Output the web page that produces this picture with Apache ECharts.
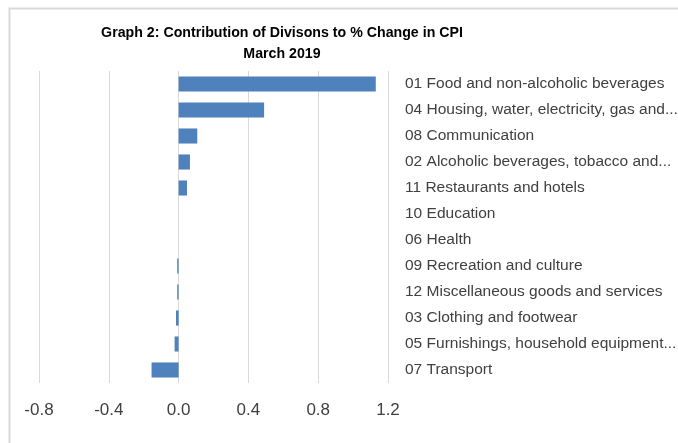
<!DOCTYPE html>
<html>
<head>
<meta charset="utf-8">
<script src="https://cdn.jsdelivr.net/npm/echarts@6/dist/echarts.min.js"></script>
<style>
  html, body { margin: 0; padding: 0; background: #fff; }
  #chart { width: 678px; height: 443px; }
</style>
</head>
<body>
<div id="chart"></div>
<script>
// divisions, top to bottom as shown
const divisions = [
  '01 Food and non-alcoholic beverages',
  '04 Housing, water, electricity, gas and...',
  '08 Communication',
  '02 Alcoholic beverages, tobacco and...',
  '11 Restaurants and hotels',
  '10 Education',
  '06 Health',
  '09 Recreation and culture',
  '12 Miscellaneous goods and services',
  '03 Clothing and footwear',
  '05 Furnishings, household equipment...',
  '07 Transport'
];
const contribution = [1.13, 0.49, 0.107, 0.065, 0.048, 0, 0, -0.008, -0.008, -0.015, -0.023, -0.155];

const titleLines = ['Graph 2: Contribution of Divisons to % Change in CPI', 'March 2019'];

let chart = echarts.init(document.getElementById('chart'), null, {renderer: 'canvas'});
let option;

option = {
  animation: false,
  title: {
    text: titleLines.join('\n'),
    left: 277,
    top: 18,
    textAlign: 'center',
    textStyle: {
      fontFamily: 'Liberation Sans',
      fontSize: 14.2,
      fontWeight: 'bold',
      color: '#000',
      lineHeight: 21
    }
  },
  graphic: [{
    type: 'rect',
    shape: {x: 9.5, y: 8.5, width: 700, height: 460},
    style: {fill: 'none', stroke: '#d9d9d9', lineWidth: 2},
    silent: true
  }],
  grid: {
    left: 39,
    right: 290,
    top: 71,
    bottom: 60,
    containLabel: false,
    outerBoundsMode: 'none'
  },
  xAxis: {
    type: 'value',
    min: -0.8,
    max: 1.2,
    interval: 0.4,
    axisLine: {show: false},
    axisTick: {show: false},
    splitLine: {lineStyle: {color: '#d9d9d9', width: 1}},
    axisLabel: {
      margin: 19,
      fontFamily: 'Liberation Sans',
      fontSize: 17,
      color: '#404040',
      formatter: v => v.toFixed(1)
    }
  },
  yAxis: {
    type: 'category',
    data: divisions,
    inverse: true,
    position: 'right',
    axisLine: {show: false},
    axisTick: {show: false},
    axisLabel: {
      margin: 17,
      fontFamily: 'Liberation Sans',
      fontSize: 15.5,
      color: '#404040'
    }
  },
  series: [
    {
      type: 'bar',
      data: contribution,
      barWidth: '58%',
      itemStyle: {color: '#4f81bd'}
    }
  ]
};

chart.setOption(option);
</script>
</body>
</html>
